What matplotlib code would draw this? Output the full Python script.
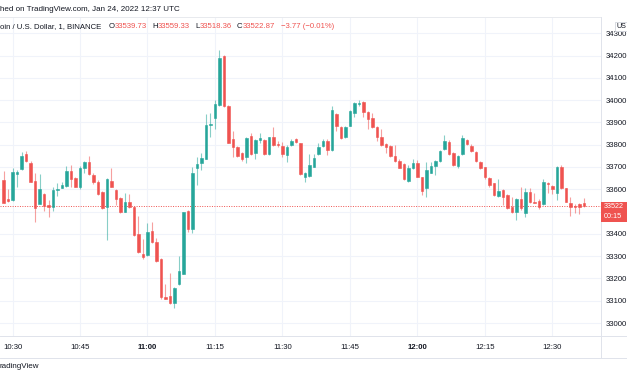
import numpy as np
import matplotlib
matplotlib.use("Agg")
from matplotlib import pyplot as plt
from matplotlib.lines import Line2D
from matplotlib.patches import Rectangle

# BTC/USD 1 minute candles, Binance, Jan 24 2022, 10:28 .. 12:37 UTC
opens = [33642, 33557, 33551, 33670, 33690, 33758, 33720, 33637, 33535, 33578,
         33528, 33519, 33596, 33607, 33615, 33682, 33650, 33609, 33697, 33724,
         33664, 33634, 33589, 33519, 33639, 33597, 33560, 33500, 33542, 33522,
         33398, 33308, 33305, 33414, 33362, 33286, 33117, 33121, 33091, 33174,
         33220, 33504, 33422, 33694, 33720, 33736, 33887, 33922, 33978, 34198,
         33974, 33824, 33791, 33764, 33746, 33839, 33762, 33821, 33821, 33758,
         33833, 33802, 33794, 33754, 33799, 33826, 33807, 33657, 33660, 33702,
         33757, 33794, 33818, 33776, 33938, 33878, 33833, 33886, 33944, 33982,
         33993, 33948, 33919, 33881, 33833, 33803, 33794, 33750, 33727, 33714,
         33637, 33697, 33717, 33654, 33605, 33675, 33706, 33727, 33780, 33814,
         33764, 33706, 33758, 33821, 33796, 33769, 33724, 33699, 33652, 33627,
         33570, 33597, 33574, 33522, 33500, 33558, 33495, 33587, 33545, 33549,
         33533, 33630, 33615, 33585, 33702, 33605, 33540, 33525, 33533, 33539.73]
highs = [33684, 33600, 33694, 33687, 33769, 33773, 33727, 33672, 33667, 33582,
         33552, 33609, 33627, 33634, 33705, 33709, 33657, 33705, 33727, 33750,
         33675, 33642, 33592, 33650, 33694, 33600, 33567, 33582, 33578, 33525,
         33482, 33377, 33450, 33452, 33380, 33290, 33174, 33223, 33163, 33301,
         33500, 33507, 33699, 33744, 33762, 33938, 33944, 34001, 34225, 34203,
         33978, 33862, 33794, 33769, 33833, 33854, 33826, 33854, 33826, 33836,
         33878, 33818, 33814, 33799, 33826, 33829, 33809, 33676, 33758, 33757,
         33807, 33824, 33824, 33974, 33944, 33884, 33884, 33956, 33991, 34001,
         33998, 33953, 33941, 33884, 33869, 33807, 33799, 33799, 33735, 33717,
         33709, 33735, 33732, 33657, 33724, 33724, 33732, 33776, 33844, 33821,
         33769, 33754, 33844, 33824, 33802, 33772, 33727, 33702, 33654, 33630,
         33645, 33600, 33578, 33564, 33560, 33612, 33605, 33605, 33582, 33555,
         33645, 33634, 33619, 33705, 33709, 33607, 33564, 33533, 33537, 33559.33]
lows = [33537, 33545, 33549, 33612, 33687, 33724, 33632, 33455, 33534, 33504,
        33477, 33504, 33570, 33605, 33612, 33612, 33609, 33600, 33672, 33664,
        33624, 33574, 33510, 33373, 33609, 33530, 33495, 33497, 33518, 33392,
        33313, 33287, 33302, 33358, 33275, 33108, 33106, 33085, 33069, 33171,
        33219, 33410, 33403, 33619, 33687, 33735, 33836, 33869, 33975, 33971,
        33807, 33744, 33746, 33728, 33720, 33754, 33735, 33807, 33754, 33754,
        33796, 33789, 33744, 33724, 33796, 33809, 33664, 33632, 33654, 33699,
        33754, 33791, 33754, 33773, 33863, 33826, 33829, 33884, 33923, 33974,
        33926, 33869, 33874, 33817, 33794, 33764, 33746, 33724, 33694, 33642,
        33634, 33690, 33654, 33574, 33564, 33672, 33664, 33724, 33776, 33754,
        33705, 33694, 33754, 33799, 33769, 33724, 33690, 33645, 33612, 33570,
        33567, 33530, 33512, 33495, 33462, 33507, 33477, 33537, 33537, 33510,
        33530, 33582, 33579, 33552, 33600, 33542, 33480, 33492, 33489, 33518.36]
closes = [33540, 33548, 33678, 33676, 33750, 33728, 33634, 33518, 33600, 33525,
          33522, 33597, 33603, 33619, 33682, 33648, 33609, 33694, 33721, 33669,
          33634, 33579, 33515, 33645, 33612, 33557, 33500, 33545, 33522, 33395,
          33317, 33295, 33407, 33362, 33280, 33115, 33109, 33089, 33159, 33234,
          33497, 33422, 33675, 33714, 33742, 33889, 33893, 33983, 34188, 33975,
          33809, 33789, 33750, 33736, 33829, 33758, 33821, 33829, 33757, 33833,
          33799, 33798, 33757, 33791, 33818, 33811, 33669, 33672, 33709, 33742,
          33789, 33818, 33776, 33956, 33886, 33829, 33881, 33953, 33986, 33989,
          33948, 33914, 33878, 33836, 33799, 33789, 33750, 33727, 33697, 33645,
          33697, 33717, 33657, 33594, 33687, 33705, 33727, 33772, 33818, 33758,
          33709, 33750, 33829, 33802, 33773, 33727, 33694, 33654, 33619, 33574,
          33594, 33567, 33515, 33497, 33555, 33515, 33589, 33545, 33540, 33522,
          33634, 33623, 33600, 33702, 33605, 33545, 33522, 33519, 33522, 33522.87]

# minutes after 10:28 for the time axis
timeTicks = [2, 17, 32, 47, 62, 77, 92, 107, 122]
timeLabels = ["10:30", "10:45", "11:00", "11:15", "11:30", "11:45", "12:00", "12:15", "12:30"]
priceTicks = [33000, 33100, 33200, 33300, 33400, 33500, 33600, 33700,
              33800, 33900, 34000, 34100, 34200, 34300]
lastPrice = 33522.87
legendParts = [("O", "33539.73"), ("H", "33559.33"), ("L", "33518.36"), ("C", "33522.87")]
changeText = "\u22123.77 (\u22120.01%)"

UP = "#26a69a"
DOWN = "#ef5350"
TXT = "#131722"
GRID = "#f0f3fa"
FONT = "Liberation Sans"
FS = 5.6

W, H = 627, 376
def fx(px):
    return px / W
def fy(py):
    return 1 - py / H

fig = plt.figure(figsize=(W / 100, H / 100), dpi=100)
fig.patch.set_facecolor("white")
ax = fig.add_axes([0, fy(336), fx(601), (336 - 17) / H])

o = np.array(opens); c = np.array(closes)
hi = np.array(highs); lo = np.array(lows)
x = np.arange(len(o))
up = c >= o
cols = [UP if u else DOWN for u in up]

ax.vlines(x, lo, hi, colors=cols, linewidth=0.8, alpha=0.55, zorder=2)
ax.bar(x, np.abs(c - o), bottom=np.minimum(o, c), width=0.66,
       color=cols, edgecolor=cols, linewidth=0.4, zorder=3)

ax.axhline(lastPrice, color=DOWN, linestyle=(0, (1, 1.5)), linewidth=0.7, zorder=1)

ax.set_xlim(-0.778, 132.78)
ax.set_ylim(32941.7, 34373)

ax.set_xticks(timeTicks)
ax.set_xticklabels(timeLabels)
ax.set_yticks(priceTicks)
# the 33500 label sits under the last price tag
ax.set_yticklabels(["" if p == 33500 else str(p) for p in priceTicks])
ax.yaxis.tick_right()
ax.tick_params(axis="both", length=0, labelsize=FS, labelcolor=TXT)
ax.tick_params(axis="y", pad=3.5)
ax.tick_params(axis="x", pad=6)
for lab in ax.get_xticklabels() + ax.get_yticklabels():
    lab.set_fontfamily(FONT)
for lab in ax.get_xticklabels():
    if lab.get_text() in ("11:00", "12:00"):
        lab.set_fontweight("bold")
ax.grid(True, color=GRID, linewidth=0.8, zorder=0)
ax.set_axisbelow(True)
for s in ["left", "right", "bottom"]:
    ax.spines[s].set_visible(False)
ax.spines["top"].set_color("#e8eaee")
ax.spines["top"].set_linewidth(0.7)

# panel separators
sep = "#e0e3eb"
fig.add_artist(Line2D([fx(601), fx(601)], [fy(17), fy(358)], color=sep, lw=0.7))
fig.add_artist(Line2D([0, 1], [fy(336), fy(336)], color=sep, lw=0.7))
fig.add_artist(Line2D([0, 1], [fy(358), fy(358)], color=sep, lw=0.7))

# header texts
fig.text(fx(0), fy(9.5), "hed on TradingView.com, Jan 24, 2022 12:37 UTC",
         fontsize=5.8, color=TXT, family=FONT, va="center", ha="left")
fig.text(fx(0), fy(27), "oin / U.S. Dollar, 1, BINANCE",
         fontsize=FS, color=TXT, family=FONT, va="center", ha="left")

# OHLC legend, each piece placed right after the previous one
prev = None
for i, (letter, val) in enumerate(legendParts):
    if i == 0:
        lt = fig.text(fx(108.5), fy(27), letter, fontsize=FS, color=TXT,
                      family=FONT, va="center")
    else:
        lt = ax.annotate(letter, xy=(1, 0.5), xycoords=prev, xytext=(3.6, 0),
                         textcoords="offset points", fontsize=FS, color=TXT,
                         family=FONT, va="center", annotation_clip=False)
    prev = ax.annotate(val, xy=(1, 0.5), xycoords=lt, xytext=(0.3, 0),
                       textcoords="offset points", fontsize=FS, color=DOWN,
                       family=FONT, va="center", annotation_clip=False)
ax.annotate(changeText, xy=(1, 0.5), xycoords=prev, xytext=(4, 0),
            textcoords="offset points", fontsize=FS, color=DOWN,
            family=FONT, va="center", annotation_clip=False)

# currency box top right
fig.add_artist(Rectangle((fx(614.5), fy(31)), fx(13), (31 - 21.5) / H,
                         facecolor="white", edgecolor="#d1d4dc", lw=0.6, zorder=5))
fig.text(fx(616.5), fy(26.3), "US", fontsize=5.2, color=TXT, family=FONT,
         va="center", zorder=6)

# last price label
fig.add_artist(Rectangle((fx(600.5), fy(222)), fx(27), 20.3 / H,
                         facecolor=DOWN, edgecolor="none", zorder=5))
fig.text(fx(604), fy(206.5), "33522", fontsize=5.2, color="white", family=FONT,
         va="center", zorder=6)
fig.text(fx(604), fy(217), "00:15", fontsize=5.2, color="white", family=FONT,
         va="center", zorder=6)

fig.text(fx(0), fy(366), "radingView", fontsize=5.8, color=TXT, family=FONT,
         va="center", ha="left")

fig.savefig("out.png", dpi=100, facecolor="white")
